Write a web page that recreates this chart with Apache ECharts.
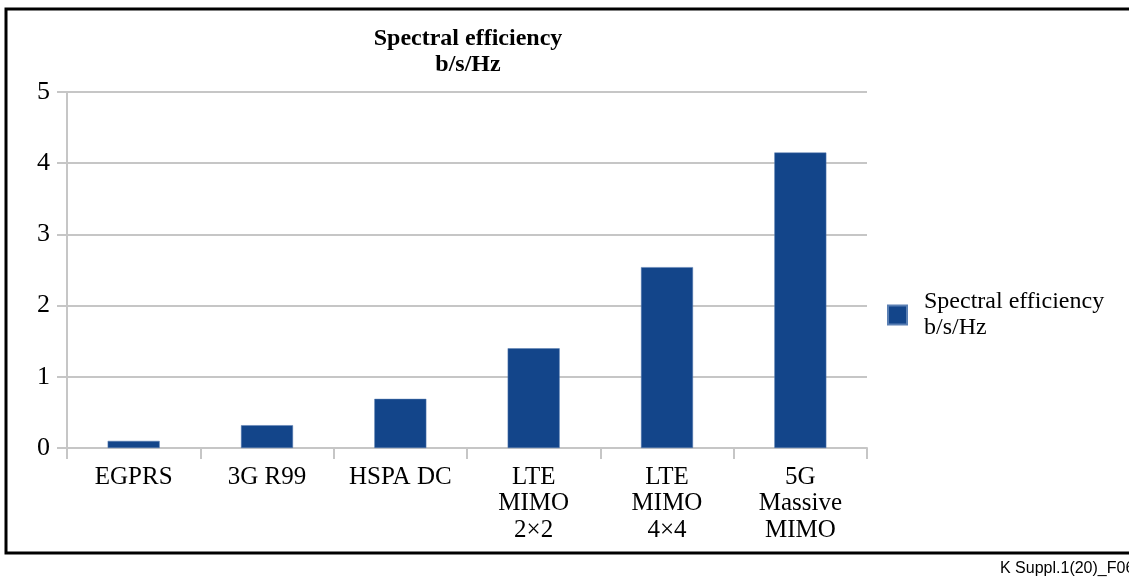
<!DOCTYPE html>
<html>
<head>
<meta charset="utf-8">
<title>Spectral efficiency</title>
<script src="https://cdn.jsdelivr.net/npm/echarts@6/dist/echarts.min.js"></script>
<style>
  html, body { margin: 0; padding: 0; background: #fff; }
  #main { width: 1129px; height: 579px; }
</style>
</head>
<body>
<div id="main"></div>
<script>
// data
var categories = ['EGPRS', '3G R99', 'HSPA DC', 'LTE\nMIMO\n2×2', 'LTE\nMIMO\n4×4', '5G\nMassive\nMIMO'];
var efficiency = [0.1, 0.32, 0.69, 1.4, 2.54, 4.15];
var yTicks = [0, 1, 2, 3, 4, 5];
var seriesName = 'Spectral efficiency b/s/Hz';

var serif = '"Liberation Serif", "Times New Roman", serif';

var myChart = echarts.init(document.getElementById('main'));
myChart.setOption({
    animation: false,
    backgroundColor: '#fff',
    title: {
        text: 'Spectral efficiency\nb/s/Hz',
        left: 463,
        top: 21,
        textAlign: 'center',
        textStyle: { fontFamily: serif, fontSize: 24, fontWeight: 'bold', color: '#000', lineHeight: 26 }
    },
    legend: {
        left: 887,
        top: 289,
        padding: 0,
        itemWidth: 19,
        itemHeight: 19,
        icon: 'rect',
        formatter: function () { return 'Spectral efficiency\nb/s/Hz'; },
        textStyle: { fontFamily: serif, fontSize: 24, color: '#000', lineHeight: 26, padding: [0, 0, 0, 12] }
    },
    grid: { left: 67, right: 262, top: 92, bottom: 131 },
    xAxis: {
        type: 'category',
        data: categories,
        axisLine: { lineStyle: { color: '#c6c6c6', width: 2 } },
        axisTick: { show: true, length: 11, lineStyle: { color: '#c6c6c6', width: 2 } },
        axisLabel: { fontFamily: serif, fontSize: 25, color: '#000', lineHeight: 26.5, margin: 16, interval: 0 }
    },
    yAxis: {
        type: 'value',
        min: yTicks[0],
        max: yTicks[yTicks.length - 1],
        interval: 1,
        axisLine: { show: true, lineStyle: { color: '#c6c6c6', width: 2 } },
        axisTick: { show: true, length: 10, lineStyle: { color: '#c6c6c6', width: 2 } },
        splitLine: { lineStyle: { color: '#c6c6c6', width: 2 } },
        axisLabel: { fontFamily: serif, fontSize: 26, color: '#000', margin: 17 }
    },
    series: [{
        name: seriesName,
        type: 'bar',
        data: efficiency,
        barWidth: '39%',
        itemStyle: { color: '#13458a', borderColor: '#5a7fb3', borderWidth: 0.5 }
    }],
    graphic: [
        {
            type: 'rect',
            shape: { x: 6, y: 9, width: 1140, height: 544 },
            style: { fill: 'none', stroke: '#000', lineWidth: 3 },
            silent: true
        },
        {
            type: 'text',
            left: 1000,
            top: 561,
            style: { text: 'K Suppl.1(20)_F06', font: '16px "Liberation Sans", Arial, sans-serif', fill: '#000' },
            silent: true
        }
    ]
});
</script>
</body>
</html>
